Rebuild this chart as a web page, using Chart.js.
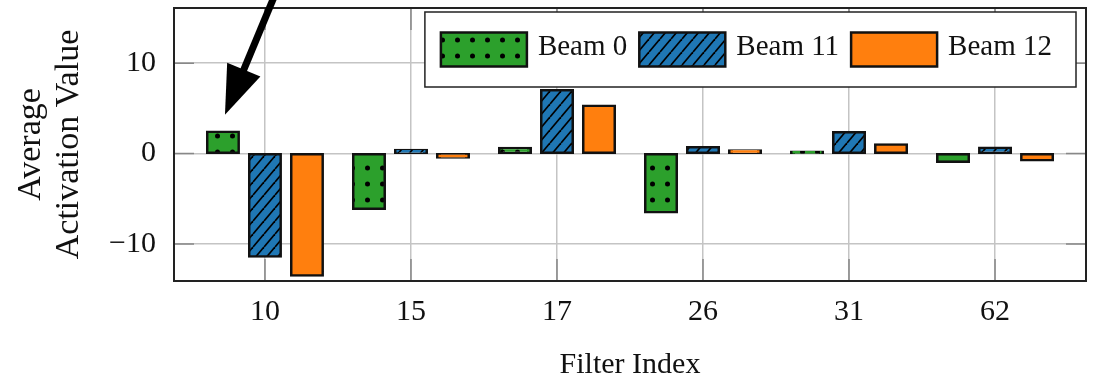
<!DOCTYPE html>
<html>
<head>
<meta charset="utf-8">
<script src="https://cdn.jsdelivr.net/npm/chart.js@4.4.1/dist/chart.umd.min.js"></script>
<style>
  html, body { margin: 0; padding: 0; background: #fff; }
  #wrap { width: 1094px; height: 383px; }
</style>
</head>
<body>
<div id="wrap"><canvas id="activationChart"></canvas></div>
<script>
const filters = ['10', '15', '17', '26', '31', '62'];
const beam0 = [2.4, -6.1, 0.6, -6.5, 0.2, -0.9];
const beam11 = [-11.4, 0.4, 7.0, 0.7, 2.35, 0.65];
const beam12 = [-13.5, -0.45, 5.3, 0.35, 1.0, -0.75];
const seriesNames = ['Beam 0', 'Beam 11', 'Beam 12'];

const serif = '"Liberation Serif", "Times New Roman", serif';
const canvas = document.getElementById('activationChart');
const mainCtx = canvas.getContext('2d');

// dotted fill for Beam 0
function dotPattern(color) {
    const w = 15, h = 16;
    const c = document.createElement('canvas');
    c.width = w; c.height = h;
    const g = c.getContext('2d');
    g.fillStyle = color;
    g.fillRect(0, 0, w, h);
    g.fillStyle = '#000';
    g.beginPath();
    g.arc(w / 2, h / 2, 2.5, 0, Math.PI * 2);
    g.fill();
    return mainCtx.createPattern(c, 'repeat');
}

// north-east hatch for Beam 11
function hatchPattern(color) {
    const w = 11, h = 13;
    const c = document.createElement('canvas');
    c.width = w; c.height = h;
    const g = c.getContext('2d');
    g.fillStyle = color;
    g.fillRect(0, 0, w, h);
    g.strokeStyle = '#000';
    g.lineWidth = 1.7;
    [-1, 0, 1].forEach(k => {
        g.beginPath();
        g.moveTo(k * w, h);
        g.lineTo(k * w + w, 0);
        g.stroke();
    });
    return mainCtx.createPattern(c, 'repeat');
}

const toPoints = arr => arr.map((v, i) => ({ x: i, y: v }));

// frame + inner tick marks
const frame = {
    id: 'frame',
    beforeDatasetsDraw(chart) {
        const { ctx, chartArea: a, scales } = chart;
        ctx.save();
        ctx.strokeStyle = '#888';
        ctx.lineWidth = 1.5;
        scales.y.ticks.forEach(t => {
            const y = scales.y.getPixelForValue(t.value);
            ctx.beginPath();
            ctx.moveTo(a.left, y); ctx.lineTo(a.left + 20, y);
            ctx.moveTo(a.right - 20, y); ctx.lineTo(a.right, y);
            ctx.stroke();
        });
        scales.x.ticks.forEach(t => {
            const x = scales.x.getPixelForValue(t.value);
            ctx.beginPath();
            ctx.moveTo(x, a.bottom); ctx.lineTo(x, a.bottom - 22);
            ctx.moveTo(x, a.top); ctx.lineTo(x, a.top + 22);
            ctx.stroke();
        });
        ctx.restore();
    },
    afterDatasetsDraw(chart) {
        const { ctx, chartArea: a } = chart;
        ctx.save();
        ctx.strokeStyle = '#222';
        ctx.lineWidth = 2;
        ctx.strokeRect(a.left, a.top, a.right - a.left, a.bottom - a.top);
        ctx.restore();
    }
};

// boxed legend inside the plot, top right
const legendBox = {
    id: 'legendBox',
    afterDraw(chart) {
        const { ctx, chartArea } = chart;
        const sw = 86, sh = 34, gap = 11, itemGap = 12, padL = 16, padR = 24, h = 75;
        ctx.save();
        ctx.font = '29px ' + serif;
        const sets = chart.data.datasets;
        let total = padL + padR;
        sets.forEach((d, i) => {
            total += sw + gap + ctx.measureText(d.label).width + (i < sets.length - 1 ? itemGap : 0);
        });
        const right = chartArea.right - 10;
        const top = chartArea.top + 4;
        const left = right - total;
        ctx.fillStyle = '#fff';
        ctx.fillRect(left, top, total, h);
        ctx.strokeStyle = '#222';
        ctx.lineWidth = 1.5;
        ctx.strokeRect(left, top, total, h);
        let x = left + padL;
        const cy = top + h / 2;
        sets.forEach(d => {
            ctx.fillStyle = d.backgroundColor;
            ctx.fillRect(x, cy - sh / 2, sw, sh);
            ctx.strokeStyle = '#111';
            ctx.lineWidth = 2.5;
            ctx.strokeRect(x, cy - sh / 2, sw, sh);
            x += sw + gap;
            ctx.fillStyle = '#111';
            ctx.textBaseline = 'middle';
            ctx.fillText(d.label, x, cy - 2);
            x += ctx.measureText(d.label).width + itemGap;
        });
        ctx.restore();
    }
};

// arrow pointing at the first Beam 0 bar
const arrow = {
    id: 'arrow',
    afterDraw(chart) {
        const bar = chart.getDatasetMeta(0).data[0];
        const { ctx } = chart;
        const tipX = bar.x + 2, tipY = bar.y - 17;
        const ux = 0.384, uy = -0.923;
        const px = -uy, py = ux;
        const headLen = 49, headHalf = 18;
        const bx = tipX + ux * headLen, by = tipY + uy * headLen;
        ctx.save();
        ctx.strokeStyle = '#000';
        ctx.lineWidth = 7;
        ctx.beginPath();
        ctx.moveTo(bx - ux * 4, by - uy * 4);
        ctx.lineTo(tipX + ux * 140, tipY + uy * 140);
        ctx.stroke();
        ctx.fillStyle = '#000';
        ctx.beginPath();
        ctx.moveTo(tipX, tipY);
        ctx.lineTo(bx + px * headHalf, by + py * headHalf);
        ctx.lineTo(bx - px * headHalf, by - py * headHalf);
        ctx.closePath();
        ctx.fill();
        ctx.restore();
    }
};

Chart.defaults.font.family = serif;
Chart.defaults.font.size = 30;
Chart.defaults.color = '#111';

// stroke straddles the bar edge, as in the original figure
const barStyle = { borderColor: '#111', borderWidth: 2.5, borderSkipped: false, inflateAmount: 1.25 };

new Chart(canvas, {
    type: 'bar',
    data: {
        datasets: [{
            label: seriesNames[0],
            data: toPoints(beam0),
            backgroundColor: dotPattern('#2ca02c'),
            ...barStyle
        }, {
            label: seriesNames[1],
            data: toPoints(beam11),
            backgroundColor: hatchPattern('#1f77b4'),
            ...barStyle
        }, {
            label: seriesNames[2],
            data: toPoints(beam12),
            backgroundColor: '#ff7f0e',
            ...barStyle
        }]
    },
    options: {
        responsive: true,
        maintainAspectRatio: false,
        animation: false,
        categoryPercentage: 0.863,
        barPercentage: 0.75,
        layout: { padding: { top: 8, right: 8, left: 0, bottom: 0 } },
        plugins: {
            legend: { display: false },
            tooltip: { enabled: false }
        },
        scales: {
            x: {
                type: 'linear',
                offset: false,
                min: -0.623,
                max: 5.623,
                grid: { color: '#c4c4c4', lineWidth: 1.5, drawTicks: false, offset: false },
                border: { display: false },
                ticks: {
                    stepSize: 1,
                    includeBounds: false,
                    padding: 13,
                    maxRotation: 0,
                    callback: v => Number.isInteger(v) ? filters[v] : ''
                },
                title: {
                    display: true,
                    text: 'Filter Index',
                    font: { size: 30, lineHeight: 1 },
                    padding: { top: 0, bottom: 3 }
                },
                afterFit: s => {
                    s.height = 102;
                    s.paddingLeft = 0;
                    s.paddingRight = 0;
                }
            },
            y: {
                min: -14.1,
                max: 16.1,
                grid: { color: '#c4c4c4', lineWidth: 1.5, drawTicks: false },
                border: { display: false },
                ticks: {
                    stepSize: 10,
                    includeBounds: false,
                    padding: 18,
                    callback: v => v < 0 ? '\u2212' + Math.abs(v) : String(v)
                },
                title: {
                    display: true,
                    text: ['Average', 'Activation Value'],
                    font: { size: 34, lineHeight: 1.12 },
                    padding: { top: 12, bottom: 0 }
                },
                afterFit: s => {
                    s.width = 174;
                    s.paddingTop = 0;
                    s.paddingBottom = 0;
                }
            }
        }
    },
    plugins: [frame, legendBox, arrow]
});
</script>
</body>
</html>
